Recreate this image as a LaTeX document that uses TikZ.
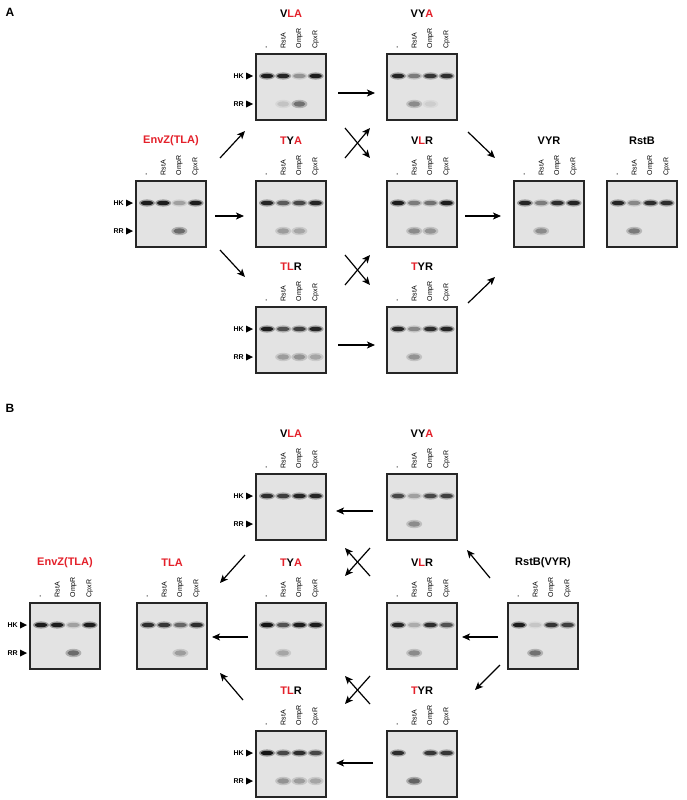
\documentclass[tikz,border=0pt]{standalone}
\usepackage{fontspec}
\setmainfont{Liberation Sans}
\usetikzlibrary{arrows.meta}
\definecolor{rd}{HTML}{E4202A}
\newcommand\R[1]{\textcolor{rd}{#1}}
\tikzset{
  gelbox/.style={draw=black!85,line width=1.1pt,fill=black!11,minimum width=70pt,minimum height=66pt,inner sep=0pt},
  lane/.style={font=\fontsize{7}{7}\selectfont,rotate=90,anchor=west,inner sep=0.5pt},
  ttl/.style={font=\bfseries\fontsize{11}{11}\selectfont,inner sep=0pt},
  mk/.style={font=\bfseries\fontsize{7}{7}\selectfont,anchor=east,inner sep=0pt},
  arr/.style={line width=1.2pt,-{Stealth[length=8pt,width=7pt,inset=2pt]}},
  lbl/.style={font=\bfseries\fontsize{12}{12}\selectfont,inner sep=0pt}
}
% #1 name, #2 x0, #3 y0, #4 title, #5 HK list, #6 RR list
\newcommand\gel[6]{%
  \node[gelbox] (#1) at (#2+35,#3+33) {};
  \node[ttl] (#1-t) at (#2+35,#3-40) {#4};
  \foreach \v [count=\k] in {#5} {
    \pgfmathsetmacro\lx{#2+11+(\k-1)*16.2}
    \fill[black,opacity=\v/100*0.35] (\lx,#3+22) ellipse (8 and 3.6);
    \fill[black,opacity=\v/100*0.9] (\lx,#3+22) ellipse (6.5 and 2.2);
  }
  \foreach \v [count=\k] in {#6} {
    \pgfmathsetmacro\lx{#2+11+(\k-1)*16.2}
    \fill[black,opacity=\v/100*0.35] (\lx,#3+50) ellipse (8 and 4.2);
    \fill[black,opacity=\v/100*0.6] (\lx,#3+50) ellipse (6 and 2.6);
  }
  \foreach \t [count=\k] in {-,RstA,OmpR,CpxR} {
    \pgfmathsetmacro\lx{#2+11+(\k-1)*16.2}
    \node[lane] at (\lx,#3-5) {\t};
  }
}
\newcommand\hkrr[2]{%
  \node[mk] at (#1-12,#2+22) {HK};
  \fill (#1-10,#2+18.5) -- (#1-3,#2+22) -- (#1-10,#2+25.5) -- cycle;
  \node[mk] at (#1-12,#2+50) {RR};
  \fill (#1-10,#2+46.5) -- (#1-3,#2+50) -- (#1-10,#2+53.5) -- cycle;
}
\newcommand\cross[4]{% x1,y1,x2,y2 ; heads on side x2
  \draw[arr] (#1,#4) -- (#3,#2);
  \draw[arr] (#1,#2) -- (#3,#4);
}
\begin{document}
\begin{tikzpicture}[x=1pt,y=-1pt]
\useasboundingbox[fill=white] (0,0) rectangle (686,800);
\node[lbl] (A) at (10,12) {A};
\node[lbl] (B) at (10,408) {B};
% ---------- Panel A
\gel{aVLA}{256}{54}{V\R{LA}}{90,85,30,90}{0,15,60,0}
\gel{aVYA}{387}{54}{VY\R{A}}{85,40,75,80}{0,45,10,0}
\gel{aEnv}{136}{181}{\R{EnvZ(TLA)}}{90,90,25,90}{0,0,65,0}
\gel{aTYA}{256}{181}{\R{T}Y\R{A}}{85,55,65,85}{0,35,30,0}
\gel{aVLR}{387}{181}{V\R{L}R}{90,40,45,90}{0,45,40,0}
\gel{aVYR}{514}{181}{VYR}{85,40,80,85}{0,45,0,0}
\gel{aRstB}{607}{181}{RstB}{85,35,80,80}{0,55,0,0}
\gel{aTLR}{256}{307}{\R{TL}R}{90,60,70,85}{0,35,40,30}
\gel{aTYR}{387}{307}{\R{T}YR}{85,35,80,85}{0,40,0,0}
\hkrr{256}{54}\hkrr{136}{181}\hkrr{256}{307}
\draw[arr] (220,158) -- (245,131);
\draw[arr] (215,216) -- (244,216);
\draw[arr] (220,250) -- (245,277);
\draw[arr] (338,93) -- (375,93);
\cross{345}{128}{370}{158}
\draw[arr] (465,216) -- (501,216);
\draw[arr] (468,132) -- (495,158);
\draw[arr] (468,303) -- (495,277);
\cross{345}{255}{370}{285}
\draw[arr] (338,345) -- (375,345);
% ---------- Panel B
\gel{bVLA}{256}{474}{V\R{LA}}{80,70,85,85}{0,0,0,0}
\gel{bVYA}{387}{474}{VY\R{A}}{65,25,65,70}{0,45,0,0}
\gel{bEnv}{30}{603}{\R{EnvZ(TLA)}}{90,90,25,90}{0,0,65,0}
\gel{bTLA}{137}{603}{\R{TLA}}{80,75,50,80}{0,0,35,0}
\gel{bTYA}{256}{603}{\R{T}Y\R{A}}{95,60,90,90}{0,30,0,0}
\gel{bVLR}{387}{603}{V\R{L}R}{85,20,80,60}{0,45,0,0}
\gel{bRstB}{508}{603}{RstB(VYR)}{90,10,75,70}{0,60,0,0}
\gel{bTLR}{256}{731}{\R{TL}R}{95,65,80,65}{0,40,35,30}
\gel{bTYR}{387}{731}{\R{T}YR}{80,0,75,75}{0,70,0,0}
\hkrr{256}{474}\hkrr{30}{603}\hkrr{256}{731}
\draw[arr] (373,511) -- (336,511);
\cross{370}{548}{345}{576}
\draw[arr] (490,578) -- (467,550);
\draw[arr] (498,637) -- (462,637);
\draw[arr] (500,665) -- (475,690);
\cross{370}{676}{345}{704}
\draw[arr] (245,555) -- (220,583);
\draw[arr] (248,637) -- (212,637);
\draw[arr] (243,700) -- (220,673);
\draw[arr] (373,763) -- (336,763);
\end{tikzpicture}
\end{document}
